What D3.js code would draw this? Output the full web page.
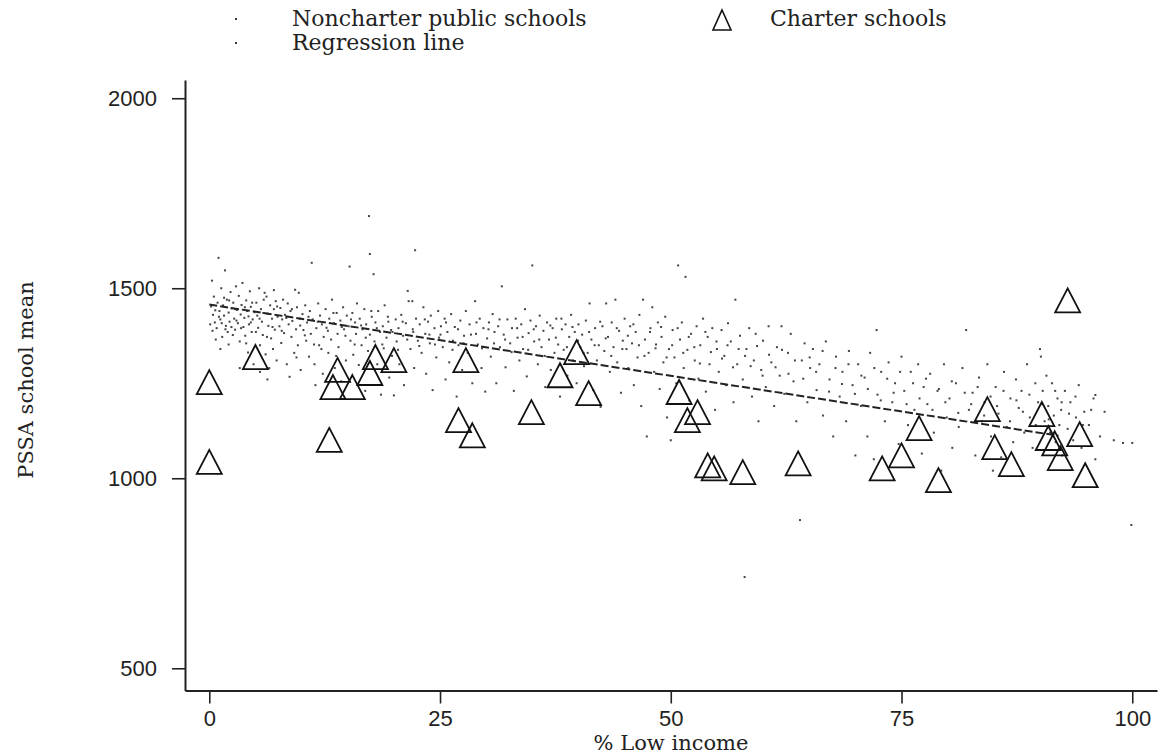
<!DOCTYPE html>
<html>
<head>
<meta charset="utf-8">
<script src="https://cdn.jsdelivr.net/npm/d3@7"></script>
<style>
  html, body { margin: 0; padding: 0; background: #fff; }
  svg { display: block; }
</style>
</head>
<body>
<div id="chart"></div>
<script>
// tick values
const xTicks = [0, 25, 50, 75, 100];
const yTicks = [500, 1000, 1500, 2000];

// charter schools (triangles)
const charterX = [0, 0, 5, 13, 13.4, 13.9, 15.5, 17.4, 18, 20, 27, 27.8, 28.5, 34.9, 38, 39.8, 41.1,
  50.9, 51.8, 52.9, 54, 54.7, 57.8, 63.8, 72.9, 75, 76.9, 79, 84.3, 85.1, 86.9, 93, 90.2, 90.9, 91.6, 92.2, 94.3, 94.9];
const charterY = [1253, 1043, 1319, 1101, 1240, 1285, 1240, 1277, 1319, 1311, 1153, 1311, 1113, 1174, 1271, 1332, 1224,
  1227, 1153, 1174, 1034, 1026, 1016, 1039, 1026, 1060, 1132, 995, 1182, 1082, 1037, 1468, 1169, 1106, 1092, 1053, 1116, 1008];

// noncharter public schools (dots), [% low income, mean]
const noncharter = [
  [0.2,1452],[0.4,1430],[0.5,1478],[0.6,1410],[0.8,1395],[0.9,1462],[1.0,1580],[1.1,1440],[1.2,1418],[1.3,1500],[1.4,1372],[1.5,1455],[1.6,1428],[1.7,1547],[1.8,1401],[1.9,1470],[2.0,1385],[2.1,1436],[2.2,1412],[2.3,1490],[2.4,1447],[0.3,1520],[0.7,1365],[1.2,1340],[2.1,1352],[0.1,1405],[1.6,1475],[2.4,1398],
  [2.6,1462],[2.7,1420],[2.8,1391],[2.9,1505],[3.0,1443],[3.1,1408],[3.2,1480],[3.3,1360],[3.4,1431],[3.5,1456],[3.6,1514],[3.7,1398],[3.8,1422],[3.9,1375],[4.0,1468],[4.1,1440],[4.2,1331],[4.3,1405],[4.4,1492],[4.5,1451],[4.6,1385],[4.7,1418],[4.8,1300],[4.9,1437],[3.3,1290],[4.0,1355],[2.8,1445],[4.5,1410],
  [5.1,1462],[5.2,1428],[5.3,1396],[5.4,1500],[5.5,1350],[5.6,1445],[5.7,1412],[5.8,1377],[5.9,1470],[6.0,1488],[6.1,1326],[6.2,1478],[6.3,1433],[6.4,1401],[6.5,1290],[6.6,1455],[6.7,1368],[6.8,1420],[6.9,1340],[7.0,1445],[7.1,1391],[7.2,1466],[7.3,1310],[7.4,1425],[5.5,1280],[6.3,1260],[7.0,1495],
  [7.6,1400],[7.7,1448],[7.8,1356],[7.9,1418],[8.0,1470],[8.1,1382],[8.2,1430],[8.4,1300],[8.5,1460],[8.6,1405],[8.7,1267],[8.8,1440],[8.9,1372],[9.0,1414],[9.2,1330],[9.3,1496],[9.4,1392],[9.5,1450],[9.6,1350],[9.7,1488],[9.8,1420],[9.9,1285],
  [10.1,1432],[10.2,1390],[10.4,1455],[10.5,1362],[10.6,1410],[10.8,1320],[10.9,1440],[11.0,1380],[11.1,1567],[11.2,1418],[11.4,1300],[11.5,1245],[11.6,1395],[11.8,1460],[11.9,1350],[12.0,1428],[12.2,1405],[12.3,1275],[12.4,1372],
  [12.6,1445],[12.7,1396],[12.9,1330],[13.0,1420],[13.2,1365],[13.3,1470],[13.5,1408],[13.6,1290],[13.8,1435],[13.9,1380],[14.0,1345],[14.2,1415],[14.3,1255],[14.5,1450],[14.6,1392],[14.8,1310],[14.9,1428],
  [15.1,1400],[15.2,1557],[15.3,1362],[15.5,1435],[15.6,1325],[15.8,1410],[15.9,1380],[16.0,1460],[16.2,1298],[16.3,1420],[16.5,1350],[16.6,1392],[16.8,1445],[16.9,1230],[17.0,1405],[17.2,1335],[17.4,1590],[17.3,1690],[17.4,1378],
  [17.6,1425],[17.8,1537],[17.9,1360],[18.0,1410],[18.2,1300],[18.3,1440],[18.5,1385],[18.6,1220],[18.8,1400],[18.9,1342],[19.0,1455],[19.2,1370],[19.4,1412],[19.5,1265],[19.7,1390],[19.8,1322],[20.0,1218],
  [20.2,1418],[20.3,1360],[20.5,1395],[20.6,1300],[20.8,1430],[21.0,1375],[21.1,1245],[21.3,1408],[21.5,1493],[21.6,1466],[21.8,1340],[22.0,1466],[22.1,1385],[22.3,1600],[22.4,1420],[22.2,1290],
  [22.6,1362],[22.8,1405],[23.0,1330],[23.2,1450],[23.4,1380],[23.5,1275],[23.7,1412],[23.9,1355],[24.0,1428],[24.2,1232],[24.4,1395],[24.6,1318],[24.8,1440],[24.9,1370],
  [25.1,1400],[25.3,1345],[25.5,1420],[25.6,1260],[25.8,1385],[26.0,1305],[26.2,1432],[26.4,1362],[26.6,1398],[26.8,1215],[27.0,1350],[27.2,1415],[27.4,1285],
  [27.6,1375],[27.8,1440],[28.0,1330],[28.2,1405],[28.5,1250],[28.8,1466],[28.9,1380],[29.1,1352],[29.3,1420],[29.5,1290],[29.7,1395],[29.9,1228],
  [30.1,1368],[30.3,1410],[30.5,1320],[30.7,1432],[30.9,1385],[31.1,1250],[31.3,1400],[31.5,1345],[31.7,1505],[31.9,1378],[32.1,1292],[32.3,1418],
  [32.6,1355],[32.8,1395],[33.0,1230],[33.2,1420],[33.4,1370],[33.6,1310],[33.8,1405],[34.0,1340],[34.2,1445],[34.4,1268],[34.6,1382],[34.8,1415],[35.0,1560],
  [35.2,1360],[35.4,1400],[35.6,1300],[35.8,1428],[36.0,1345],[36.2,1388],[36.4,1240],[36.6,1410],[36.8,1365],[37.0,1285],[37.2,1395],[37.4,1330],
  [37.6,1420],[37.8,1352],[38.0,1215],[38.2,1392],[38.4,1338],[38.6,1405],[38.8,1270],[39.0,1372],[39.2,1430],[39.4,1310],[39.6,1385],[39.8,1250],
  [40.0,1405],[40.2,1345],[40.4,1378],[40.6,1295],[40.8,1415],[41.0,1330],[41.2,1460],[41.4,1365],[41.6,1232],[41.8,1395],[42.0,1310],[42.2,1350],[42.4,1188],
  [42.6,1400],[42.8,1335],[43.0,1460],[43.2,1372],[43.4,1280],[43.6,1410],[43.8,1345],[44.0,1470],[44.2,1305],[44.4,1388],[44.6,1225],[44.8,1362],
  [45.0,1420],[45.2,1340],[45.4,1290],[45.6,1400],[45.8,1355],[46.0,1245],[46.2,1385],[46.4,1318],[46.6,1430],[46.8,1190],[47.0,1470],[47.2,1365],[47.4,1110],
  [47.6,1330],[47.8,1395],[48.0,1450],[48.2,1280],[48.4,1352],[48.6,1410],[48.8,1235],[49.0,1372],[49.2,1305],[49.4,1425],[49.6,1160],[49.8,1340],
  [50.0,1100],[50.2,1390],[50.4,1318],[50.6,1250],[50.8,1560],[51.0,1365],[51.2,1410],[51.4,1290],[51.6,1530],[51.8,1338],[52.0,1205],[52.2,1380],
  [52.6,1310],[52.8,1400],[53.0,1262],[53.2,1350],[53.5,1420],[53.8,1228],[54.0,1372],[54.2,1300],[54.5,1395],[54.8,1180],[55.0,1340],
  [55.2,1280],[55.5,1390],[55.8,1322],[56.0,1245],[56.2,1408],[56.5,1360],[56.8,1200],[57.0,1470],[57.2,1300],[57.5,1375],
  [57.8,1260],[58.0,740],[58.2,1340],[58.5,1395],[58.8,1215],[59.0,1310],[59.2,1380],[59.5,1150],[59.8,1285],
  [60.0,1362],[60.3,1240],[60.6,1400],[60.9,1305],[61.2,1190],[61.5,1345],[61.8,1270],[62.0,1400],[62.3,1222],
  [62.7,1330],[63.0,1380],[63.3,1255],[63.6,1150],[64.0,890],[64.2,1310],[64.5,1355],[64.8,1200],
  [65.1,1290],[65.4,1340],[65.8,1232],[66.1,1300],[66.5,1165],[66.8,1360],[67.2,1260],
  [67.6,1110],[67.9,1320],[68.3,1215],[68.6,1280],[69.0,1150],[69.3,1335],[69.7,1245],
  [70.0,1060],[70.3,1300],[70.6,1190],[71.0,1265],[71.3,1110],[71.6,1330],[72.0,1050],[72.3,1390],[72.4,1220],
  [72.8,1280],[73.2,1150],[73.6,1305],[74.0,1200],[74.3,1250],[74.7,1090],[75.0,1320],
  [75.3,1230],[75.7,1140],[76.0,1280],[76.4,1180],[76.8,1300],[77.2,1065],[77.4,1240],
  [77.8,1195],[78.1,1275],[78.5,1120],[78.9,1230],[79.3,1020],[79.6,1300],[79.9,1160],
  [80.2,1210],[80.5,1080],[80.9,1250],[81.2,1135],[81.6,1290],[82.0,1390],[82.3,1180],
  [82.7,1225],[83.0,1060],[83.4,1265],[83.7,1150],[84.0,1200],[84.3,1300],[84.7,1110],[84.9,1020],
  [85.2,1240],[85.5,1170],[85.8,1055],[86.1,1280],[86.4,1135],[86.8,1210],[87.1,1095],[87.4,1260],
  [87.7,1185],[88.0,1230],[88.3,1120],[88.6,1300],[88.9,1160],[89.2,1080],[89.5,1250],[89.8,1200],
  [90.0,1340],[90.1,1320],[90.3,1230],[90.5,1150],[90.7,1270],[90.9,1190],[91.1,1120],[91.3,1250],[91.5,1165],[91.7,1095],[91.9,1210],[92.1,1140],[92.3,1180],[92.4,1060],
  [92.7,1230],[93.0,1130],[93.3,1200],[93.6,1100],[93.9,1160],[94.2,1245],[94.5,1080],[94.8,1175],
  [95.3,1140],[95.8,1210],[96.0,1219],[96.5,1110],[97.0,1175],[96.0,1050],[98.0,1100],[99.0,1093],[100.0,1093],[99.9,877],
  [0.35,1388],[0.65,1442],[1.05,1425],[1.35,1408],[1.75,1392],[2.15,1468],[2.55,1377],[2.95,1415],[3.45,1395],[3.85,1450],[4.25,1426],[4.65,1462],[5.05,1385],[5.45,1420],[5.85,1435],[6.25,1372],[6.85,1398],[7.35,1452],[7.85,1388],[8.35,1422],[8.95,1445],[9.45,1318],[9.85,1402],
  [10.35,1376],[10.75,1425],[11.35,1352],[11.75,1412],[12.15,1340],[12.85,1388],[13.45,1435],[13.75,1322],[14.35,1398],[14.75,1375],[15.35,1418],[15.75,1352],[16.45,1402],[16.95,1370],[17.55,1440],[18.15,1395],[18.75,1352],[19.35,1425],[19.85,1385],
  [20.45,1338],[20.95,1412],[21.45,1365],[22.05,1392],[22.75,1348],[23.35,1418],[23.85,1378],[24.45,1352],[25.05,1378],[25.65,1410],[26.35,1338],[26.95,1392],[27.55,1355],[28.35,1378],[28.95,1410],[29.55,1342],
  [30.25,1392],[30.85,1355],[31.45,1418],[32.05,1365],[32.75,1332],[33.35,1395],[33.95,1372],[34.55,1338],[35.15,1392],[35.75,1365],[36.35,1322],[36.95,1402],[37.55,1370],[38.15,1420],[38.75,1345],[39.35,1398],[39.95,1362],
  [40.55,1330],[41.15,1385],[41.75,1350],[42.35,1412],[42.95,1368],[43.55,1322],[44.15,1395],[44.75,1340],[45.35,1375],[45.95,1405],[46.55,1350],[47.15,1322],[47.75,1385],[48.35,1342],[48.95,1398],[49.55,1318],
  [50.15,1350],[50.75,1395],[51.35,1330],[51.95,1372],[52.55,1345],[53.15,1302],[53.75,1385],[54.35,1332],[54.95,1360],[55.55,1315],[56.15,1350],[56.75,1292],[57.35,1340],[58.05,1322],[58.65,1295],[59.35,1348],[59.95,1270],
  [60.65,1325],[61.35,1292],[62.05,1338],[62.75,1275],[63.45,1310],[64.35,1262],[65.05,1318],[65.75,1280],[66.45,1335],[67.15,1228],[67.85,1290],[68.55,1248],[69.25,1300],[69.95,1222],
  [70.65,1270],[71.35,1235],[72.05,1290],[72.75,1205],[73.45,1262],[74.15,1225],[74.85,1280],[75.55,1195],[76.25,1250],[76.95,1210],[77.65,1262],[78.35,1180],[79.05,1235],[79.75,1200],
  [80.45,1255],[81.15,1172],[81.85,1225],[82.55,1195],[83.25,1240],[83.95,1165],[84.65,1215],[85.35,1190],[86.05,1230],[86.75,1150],[87.45,1205],[88.15,1175],[88.85,1220],[89.55,1140],
  [90.25,1195],[90.95,1155],[91.65,1230],[92.35,1200],[93.15,1170],[93.85,1215],[94.65,1140],[95.55,1180]
];

// fitted line end points
const regX = [0, 92];
const regY = [1457, 1112];

const width = 1159;
const height = 755;

const svg = d3.select("#chart")
  .append("svg")
  .attr("width", width)
  .attr("height", height)
  .style("background", "#fff");

const x = d3.scaleLinear().domain([-2.63, 102.68]).range([185, 1157]);
const y = d3.scaleLinear().domain([441.5, 2048]).range([690.5, 80]);

const tickFont = "'Liberation Sans', Arial, sans-serif";
const titleFont = "'DejaVu Serif', serif";

// triangle centred on its bounding box
function triangle(cx, cy, w, h) {
  const p = d3.path();
  p.moveTo(cx, cy - h / 2);
  p.lineTo(cx + w / 2, cy + h / 2);
  p.lineTo(cx - w / 2, cy + h / 2);
  p.closePath();
  return p.toString();
}

// noncharter dots
svg.append("g")
  .selectAll("rect")
  .data(noncharter)
  .enter()
  .append("rect")
  .attr("x", (d) => x(d[0]) - 1)
  .attr("y", (d) => y(d[1]) - 1)
  .attr("width", 2)
  .attr("height", 2)
  .attr("fill", "#444");

// regression line
svg.append("path")
  .datum(d3.zip(regX, regY))
  .attr("d", d3.line().x((d) => x(d[0])).y((d) => y(d[1])))
  .attr("fill", "none")
  .attr("stroke", "#222")
  .attr("stroke-width", 2)
  .attr("stroke-dasharray", "8,3");

// charter triangles
svg.append("g")
  .selectAll("path")
  .data(d3.zip(charterX, charterY))
  .enter()
  .append("path")
  .attr("d", (d) => triangle(x(d[0]), y(d[1]), 25, 24))
  .attr("fill", "none")
  .attr("stroke", "#111")
  .attr("stroke-width", 1.8);

// axes
const yAxis = svg.append("g")
  .attr("transform", "translate(185,0)")
  .call(d3.axisLeft(y).tickValues(yTicks).tickFormat(d3.format("d"))
    .tickSize(13).tickSizeOuter(0).tickPadding(15));

const xAxis = svg.append("g")
  .attr("transform", "translate(0,690.5)")
  .call(d3.axisBottom(x).tickValues(xTicks).tickFormat(d3.format("d"))
    .tickSize(13).tickSizeOuter(0).tickPadding(7));

[xAxis, yAxis].forEach((g) => {
  g.select(".domain").attr("stroke", "#222").attr("stroke-width", 2);
  g.selectAll(".tick line").attr("stroke", "#222").attr("stroke-width", 1.6);
  g.selectAll(".tick text")
    .attr("fill", "#222")
    .style("font-family", tickFont)
    .style("font-size", "22px");
});

// axis titles
svg.append("text")
  .attr("x", 671)
  .attr("y", 750)
  .attr("text-anchor", "middle")
  .style("font-family", titleFont)
  .style("font-size", "21px")
  .attr("fill", "#222")
  .text("% Low income");

svg.append("text")
  .attr("transform", "translate(33,380) rotate(-90)")
  .attr("text-anchor", "middle")
  .style("font-family", titleFont)
  .style("font-size", "21px")
  .attr("fill", "#222")
  .text("PSSA school mean");

// legend
const legend = svg.append("g");
const legendItems = [
  { label: "Noncharter public schools", lx: 236, tx: 292, ty: 26 },
  { label: "Regression line", lx: 236, tx: 292, ty: 50 }
];

legend.selectAll("rect")
  .data(legendItems)
  .enter()
  .append("rect")
  .attr("x", (d) => d.lx - 1)
  .attr("y", (d) => d.ty - 8)
  .attr("width", 2)
  .attr("height", 2)
  .attr("fill", "#333");

legend.selectAll("text")
  .data(legendItems)
  .enter()
  .append("text")
  .attr("x", (d) => d.tx)
  .attr("y", (d) => d.ty)
  .style("font-family", titleFont)
  .style("font-size", "22px")
  .attr("fill", "#222")
  .text((d) => d.label);

legend.append("path")
  .attr("d", triangle(722, 20, 18, 20))
  .attr("fill", "none")
  .attr("stroke", "#111")
  .attr("stroke-width", 1.6);

legend.append("text")
  .attr("x", 770)
  .attr("y", 26)
  .style("font-family", titleFont)
  .style("font-size", "22px")
  .attr("fill", "#222")
  .text("Charter schools");
</script>
</body>
</html>
